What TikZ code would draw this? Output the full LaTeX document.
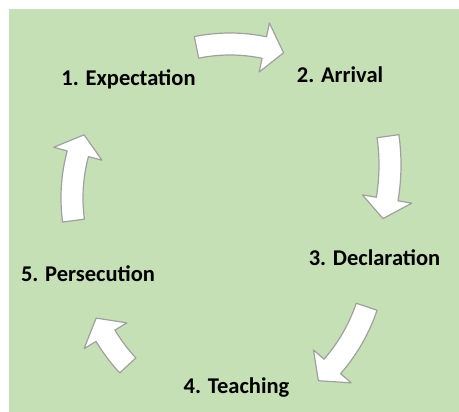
\documentclass[tikz,border=0pt]{standalone}
\usepackage{fontspec}
\setmainfont{Carlito}
\definecolor{cyclegreen}{HTML}{C5E0B4}
\definecolor{arrowgray}{HTML}{A0A0A0}
\tikzset{
  stage/.style={font=\fontsize{22.5}{27}\selectfont\bfseries, anchor=base, inner sep=0pt},
  cycarrow/.style={draw=arrowgray, fill=white, line width=1.2pt, line join=round}
}
% curved block arrow: centre, radius, tail angle, tip angle (clockwise)
\newcommand{\cyclearrow}[4]{%
  \pgfmathsetmacro{\headang}{#4+20/#2*57.2958}%
  \draw[cycarrow, shift={#1}]
    (#3:#2pt+11pt) arc[start angle=#3, end angle=\headang, radius=#2pt+11pt]
    -- (\headang:#2pt+25pt) -- (#4:#2pt) -- (\headang:#2pt-25pt)
    -- (\headang:#2pt-11pt) arc[start angle=\headang, end angle=#3, radius=#2pt-11pt]
    -- cycle;}

\begin{document}
\begin{tikzpicture}[x=1pt, y=1pt]
    \useasboundingbox (0,0) rectangle (459,-412);
    \fill [cyclegreen] (9,-9) rectangle (459,-412);

    \node [stage] (expect) at (128.5,-86) {1. Expectation};
    \node [stage] (arrive) at (340,-83) {2. Arrival};
    \node [stage] (declare) at (374.5,-266) {3. Declaration};
    \node [stage] (teach) at (236.5,-393) {4. Teaching};
    \node [stage] (persecute) at (88,-282) {5. Persecution};

    \cyclearrow{(230,-212)}{168}{101.5}{71.4}
    \cyclearrow{(183,-165)}{207}{8}{-15}
    \cyclearrow{(199,-250)}{177}{-18.7}{-47.6}
    \cyclearrow{(258,-244)}{178}{223}{204.6}
    \cyclearrow{(243,-198)}{171}{187.6}{158.3}
\end{tikzpicture}
\end{document}
